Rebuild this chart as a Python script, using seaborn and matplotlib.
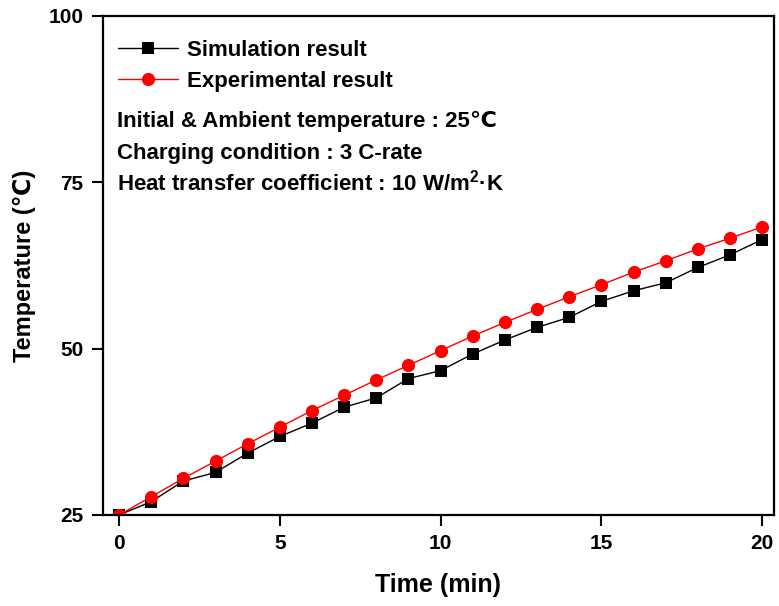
import numpy as np
import pandas as pd
import matplotlib
matplotlib.use("Agg")
import matplotlib.pyplot as plt
import seaborn as sns

time_min = list(range(0, 21))
simulation = [25.0, 27.0, 30.1, 31.4, 34.3, 36.8, 38.8, 41.2, 42.6, 45.5, 46.7,
              49.2, 51.3, 53.2, 54.7, 57.1, 58.7, 59.9, 62.2, 64.1, 66.4]
experimental = [25.0, 27.75, 30.5, 33.1, 35.7, 38.2, 40.7, 43.0, 45.3, 47.5, 49.7,
                51.9, 53.95, 55.9, 57.8, 59.6, 61.5, 63.2, 65.0, 66.6, 68.3]
series_names = ["Simulation result", "Experimental result"]
x_ticks = [0, 5, 10, 15, 20]
y_ticks = [25, 50, 75, 100]
notes = ["Initial & Ambient temperature : 25\u2103",
         "Charging condition : 3 C-rate",
         "Heat transfer coefficient : 10 W/m$^{\\mathbf{2}}$\u00b7K"]

sns.set_style("ticks")
plt.rcParams['font.family'] = ['Liberation Sans', 'DejaVu Sans']
plt.rcParams['mathtext.fontset'] = 'custom'
plt.rcParams['mathtext.bf'] = 'Liberation Sans:bold'
plt.rcParams['mathtext.rm'] = 'Liberation Sans'
for k in ['text.color', 'axes.labelcolor', 'xtick.color', 'ytick.color', 'axes.edgecolor']:
    plt.rcParams[k] = 'black'

df = pd.DataFrame({
    "Time": time_min * 2,
    "Temperature": simulation + experimental,
    "Series": [series_names[0]] * len(time_min) + [series_names[1]] * len(time_min),
})

fig = plt.figure(figsize=(7.79, 6.06), dpi=100)
ax = fig.add_axes([0.1322, 0.1502, 0.8614, 0.8234])

sns.lineplot(data=df[df.Series == series_names[0]], x="Time", y="Temperature",
             color="black", marker="s", markersize=8, markeredgewidth=0,
             linewidth=1, label=series_names[0], ax=ax)
sns.lineplot(data=df[df.Series == series_names[1]], x="Time", y="Temperature",
             color="red", marker="o", markersize=9.5, markeredgewidth=0,
             linewidth=1, label=series_names[1], ax=ax)

ax.set_xlim(-0.5, 20.37)
ax.set_ylim(25, 100)
ax.set_xticks(x_ticks)
ax.set_yticks(y_ticks)

narrow = ['Liberation Sans Narrow', 'Liberation Sans', 'DejaVu Sans']
ax.set_xticklabels([str(t) for t in x_ticks], fontsize=15, fontweight='bold', family=narrow)
ax.set_yticklabels([str(t) for t in y_ticks], fontsize=15, fontweight='bold')
ax.tick_params(direction='out', length=8, width=1.5, pad=6, colors='black')

for s in ax.spines.values():
    s.set_visible(True)
    s.set_linewidth(1.6)
    s.set_color('black')

ax.set_xlabel("Time (min)", fontsize=18, fontweight='bold', family=narrow, labelpad=14)
ax.set_ylabel("Temperature (\u2103)", fontsize=17, fontweight='bold', labelpad=9)

leg = ax.legend(loc='upper left', bbox_to_anchor=(0.022, 0.952), frameon=False,
                handlelength=2.7, handletextpad=0.4, borderaxespad=0, borderpad=0,
                labelspacing=0.45, prop={'size': 16, 'weight': 'bold'})

for txt, yv in zip(notes, [84.2, 79.4, 74.9]):
    ax.text(0.021, yv, txt, transform=ax.get_yaxis_transform(), fontsize=16,
            fontweight='bold', va='center', ha='left')

fig.savefig("out.png", dpi=100)
